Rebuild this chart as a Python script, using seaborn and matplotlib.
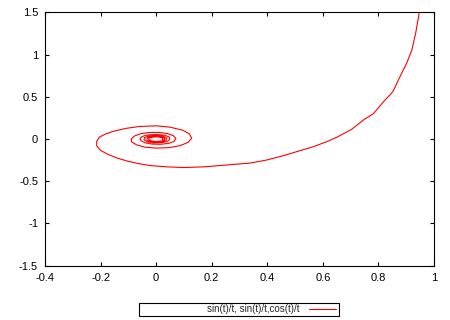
import matplotlib
matplotlib.use("Agg")
import matplotlib.pyplot as plt
from matplotlib.patches import Rectangle
import seaborn as sns
import pandas as pd

# Points, in drawing order (outer end -> centre)
xs = [0.947, 0.934, 0.920, 0.902, 0.878, 0.852, 0.818, 0.782, 0.746, 0.704,
      0.650, 0.614, 0.566, 0.506, 0.458, 0.398, 0.338, 0.254, 0.170, 0.100,
      0.040, -0.020, -0.058, -0.100, -0.141, -0.175, -0.200, -0.214, -0.214,
      -0.205, -0.185, -0.155, -0.110, -0.060, 0.000, 0.050, 0.095, 0.120,
      0.128, 0.115, 0.085, 0.045, 0.000, -0.040, -0.070, -0.088, -0.090,
      -0.078, -0.055, -0.025, 0.010, 0.040, 0.062, 0.071, 0.064, 0.045,
      0.015, -0.015, -0.040, -0.055, -0.058, -0.050, -0.030, 0.000, 0.030,
      0.048, 0.049, 0.040, 0.018, -0.010, -0.032, -0.043, -0.042, -0.028,
      0.000, 0.025, 0.037, 0.038, 0.030, 0.010, -0.012, -0.028, -0.034,
      -0.030, -0.015, 0.005, 0.022, 0.031, 0.030, 0.020, 0.002, -0.016,
      -0.026, -0.026, -0.015, 0.003, 0.018, 0.025, 0.022]
ys = [1.500, 1.250, 1.050, 0.900, 0.740, 0.560, 0.440, 0.300, 0.225, 0.115,
      0.020, -0.032, -0.091, -0.150, -0.197, -0.249, -0.285, -0.308, -0.330,
      -0.338, -0.330, -0.315, -0.295, -0.265, -0.225, -0.180, -0.135, -0.080,
      -0.030, 0.020, 0.055, 0.090, 0.125, 0.148, 0.156, 0.140, 0.105, 0.060,
      0.008, -0.040, -0.080, -0.103, -0.108, -0.097, -0.070, -0.035, 0.000,
      0.035, 0.063, 0.077, 0.078, 0.065, 0.040, 0.005, -0.030, -0.052,
      -0.063, -0.060, -0.045, -0.020, 0.005, 0.030, 0.048, 0.053, 0.045,
      0.022, -0.005, -0.030, -0.044, -0.045, -0.033, -0.010, 0.015, 0.034,
      0.040, 0.033, 0.015, -0.005, -0.025, -0.035, -0.034, -0.022, -0.003,
      0.018, 0.030, 0.032, 0.025, 0.008, -0.010, -0.024, -0.029, -0.024,
      -0.010, 0.008, 0.022, 0.026, 0.020, 0.005, -0.010]

series_label = "sin(t)/t, sin(t)/t,cos(t)/t"
x_ticks = [-0.4, -0.2, 0, 0.2, 0.4, 0.6, 0.8, 1]
y_ticks = [-1.5, -1, -0.5, 0, 0.5, 1, 1.5]

sns.set_style("white")
plt.rcParams["font.family"] = ["Liberation Sans", "DejaVu Sans"]

df = pd.DataFrame({"x": xs, "y": ys})

W, H = 450, 320
fig = plt.figure(figsize=(4.5, 3.2), dpi=100)
ax = fig.add_axes([0.1, 0.1697, 0.8644, 0.7919])

sns.lineplot(data=df, x="x", y="y", sort=False, estimator=None, color="red",
             linewidth=0.8, label=series_label, ax=ax)

ax.set_xlim(-0.4, 1)
ax.set_ylim(-1.5, 1.5)
ax.set_xticks(x_ticks)
ax.set_yticks(y_ticks)
ax.set_xticklabels([f"{v:g}" for v in x_ticks])
ax.set_yticklabels([f"{v:g}" for v in y_ticks])
ax.set_xlabel("")
ax.set_ylabel("")
for s in ax.spines.values():
    s.set_color("black")
    s.set_linewidth(0.8)
ax.tick_params(direction="in", length=3, width=0.8, top=True, right=True,
               bottom=True, left=True, labelsize=8, colors="black", pad=5)

ax.legend_.remove()
# legend frame (gnuplot style box below the plot)
fig.patches.append(Rectangle((139 / W, 1 - 316 / H), 200 / W, 13 / H,
                             transform=fig.transFigure, fill=False,
                             edgecolor="black", linewidth=0.8))
leg = fig.legend(*ax.get_legend_handles_labels(), loc="center right",
                 bbox_to_anchor=(336 / W, 1 - 309.5 / H), markerfirst=False,
                 fontsize=7, frameon=False, handlelength=2.8,
                 borderpad=0, handletextpad=1.0, borderaxespad=0)

fig.savefig("out.png", dpi=100)
